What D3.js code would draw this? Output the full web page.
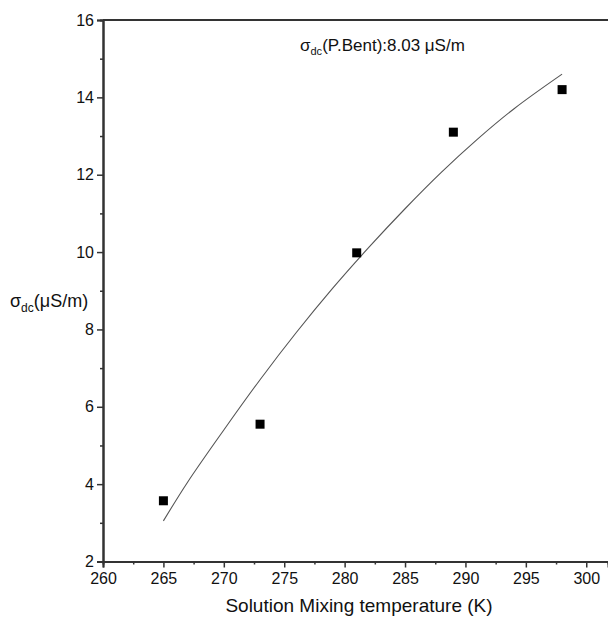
<!DOCTYPE html>
<html><head><meta charset="utf-8">
<script src="https://cdn.jsdelivr.net/npm/d3@7"></script>
<style>body{margin:0;background:#fff}svg{display:block}text{font-family:"Liberation Sans",Arial,sans-serif;fill:#111}</style>
</head><body>
<svg id="c" width="608" height="621"></svg>
<script>
const temps = [265, 273, 281, 289, 298];
const sigma = [3.57, 5.55, 9.98, 13.1, 14.2];
const fitX = [265, 267, 270, 273, 276, 279, 282, 285, 288, 291, 294, 298];
const fitY = [3.05, 4.05, 5.4, 6.7, 7.92, 9.06, 10.12, 11.12, 12.06, 12.92, 13.7, 14.6];
const xTicks = [260, 265, 270, 275, 280, 285, 290, 295, 300];
const yTicks = [2, 4, 6, 8, 10, 12, 14, 16];

const svg = d3.select("#c");
const x = d3.scaleLinear().domain([260, 301.8]).range([103, 608]);
const y = d3.scaleLinear().domain([2, 16]).range([561.5, 20]);
const axCol = "#333";

const gx = svg.append("g").attr("transform", `translate(0,${y(2)})`)
  .call(d3.axisBottom(x).tickValues(xTicks).tickSize(6).tickPadding(5).tickFormat(d3.format("d")));
gx.append("g").call(d3.axisBottom(x).tickValues(d3.range(262.5, 300, 5)).tickSize(3).tickFormat(""));
const gy = svg.append("g").attr("transform", `translate(${x(260)},0)`)
  .call(d3.axisLeft(y).tickValues(yTicks).tickSize(6).tickPadding(3).tickFormat(d3.format("d")));
gy.append("g").call(d3.axisLeft(y).tickValues(d3.range(3, 16, 2)).tickSize(3).tickFormat(""));
[gx, gy].forEach(g => {
  g.attr("font-size", null).attr("font-family", null);
  g.selectAll("path.domain").attr("stroke", axCol).attr("stroke-width", 2);
  g.selectAll("line").attr("stroke", axCol).attr("stroke-width", 1.5);
  g.selectAll("text").style("font-size", "16px").attr("fill", "#111");
});
svg.append("line").attr("x1", x(260)).attr("x2", 608).attr("y1", y(16)).attr("y2", y(16))
  .attr("stroke", axCol).attr("stroke-width", 2);

const line = d3.line().x((d,i) => x(fitX[i])).y((d,i) => y(fitY[i])).curve(d3.curveCatmullRom);
svg.append("path").datum(fitX).attr("d", line).attr("fill", "none").attr("stroke", "#555").attr("stroke-width", 1.1);

svg.selectAll("rect.pt").data(temps).join("rect").attr("class", "pt")
  .attr("x", (d) => x(d) - 4.5).attr("y", (d,i) => y(sigma[i]) - 4.5)
  .attr("width", 9).attr("height", 9).attr("fill", "#000");

const ann = svg.append("text").attr("x", 300).attr("y", 51).style("font-size", "17px");
ann.append("tspan").text("σ");
ann.append("tspan").style("font-size", "11px").attr("dy", 4).text("dc");
ann.append("tspan").attr("dy", -4).text("(P.Bent):8.03 μS/m");

const yl = svg.append("text").attr("x", 10).attr("y", 307).style("font-size", "18px");
yl.append("tspan").text("σ");
yl.append("tspan").style("font-size", "12px").attr("dy", 5).text("dc");
yl.append("tspan").attr("dy", -5).text("(μS/m)");

svg.append("text").attr("x", 359).attr("y", 612).attr("text-anchor", "middle").style("font-size", "19px")
  .text("Solution Mixing temperature (K)");
</script>
</body></html>
